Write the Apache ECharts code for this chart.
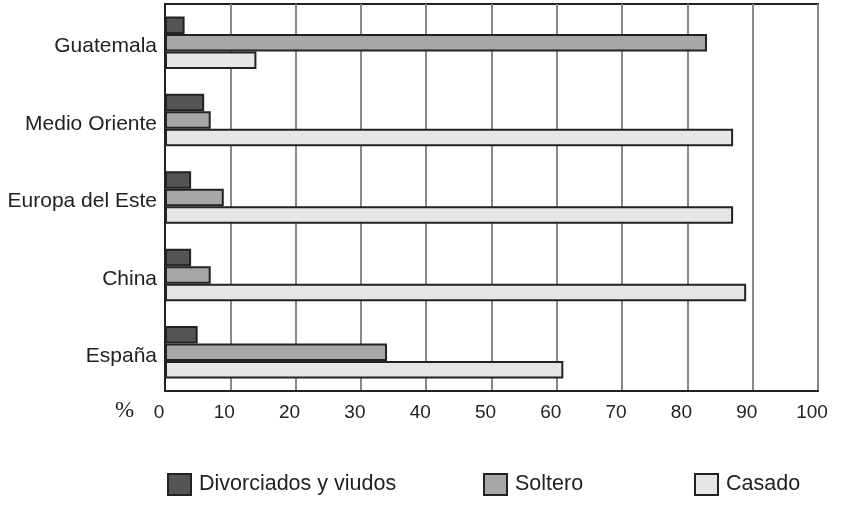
<!DOCTYPE html>
<html>
<head>
<meta charset="utf-8">
<script src="https://cdn.jsdelivr.net/npm/echarts@6/dist/echarts.min.js"></script>
<style>
  html, body { margin: 0; padding: 0; background: #fff; }
  #chart { width: 847px; height: 532px; }
</style>
</head>
<body>
<div id="chart"></div>
<script>
// categories, from bottom to top
var regiones = ['España', 'China', 'Europa del Este', 'Medio Oriente', 'Guatemala'];
var divorciados = [5, 4, 4, 6, 3];
var soltero = [34, 7, 9, 7, 83];
var casado = [61, 89, 87, 87, 14];
var ticksX = [0, 10, 20, 30, 40, 50, 60, 70, 80, 90, 100];

var myChart = echarts.init(document.getElementById('chart'));
var borde = { borderColor: '#222', borderWidth: 2 };

function leyenda(nombre, left) {
    return {
        data: [nombre],
        left: left,
        top: 473,
        padding: 0,
        icon: 'rect',
        itemWidth: 23,
        itemHeight: 21,
        itemStyle: borde,
        selectedMode: false,
        textStyle: { fontSize: 21.5, color: '#222', fontFamily: 'Liberation Sans', padding: [2, 0, 0, 3] }
    };
}

var option = {
    animation: false,
    grid: {
        left: 165, right: 29, top: 4, bottom: 141,
        show: true, borderColor: '#222', borderWidth: 2
    },
    legend: [
        leyenda('Divorciados y viudos', 167),
        leyenda('Soltero', 483),
        leyenda('Casado', 694)
    ],
    graphic: [{
        type: 'text', left: 115, top: 399,
        style: { text: '%', fontSize: 23, fontFamily: 'Liberation Serif', fill: '#222' }
    }],
    xAxis: {
        type: 'value', min: 0, max: 100, interval: 10,
        axisLine: { show: true, lineStyle: { color: '#222', width: 2 } },
        axisTick: { show: false },
        splitLine: { lineStyle: { color: '#888', width: 2 } },
        axisLabel: {
            fontSize: 19, color: '#222', fontFamily: 'Liberation Sans', margin: 12,
            padding: [0, 12, 0, 0],
            formatter: function (v) { return ticksX.indexOf(v) >= 0 ? String(v) : ''; }
        }
    },
    yAxis: {
        type: 'category', data: regiones,
        axisLine: { show: true, lineStyle: { color: '#222', width: 2 } },
        axisTick: { show: false },
        axisLabel: {
            fontSize: 21, color: '#222', fontFamily: 'Liberation Sans', margin: 8,
            formatter: function (v) { return '{a|' + v + '}'; },
            rich: { a: { fontSize: 21, color: '#222', fontFamily: 'Liberation Sans', padding: [8, 0, 0, 0] } }
        }
    },
    series: [
        { name: 'Divorciados y viudos', type: 'bar', data: divorciados, barWidth: 17.5, barGap: '0%',
          itemStyle: { color: '#555555', borderColor: '#222', borderWidth: 2 } },
        { name: 'Soltero', type: 'bar', data: soltero, barWidth: 17.5, barGap: '0%',
          itemStyle: { color: '#a7a7a9', borderColor: '#222', borderWidth: 2 } },
        { name: 'Casado', type: 'bar', data: casado, barWidth: 17.5, barGap: '0%',
          itemStyle: { color: '#e6e6e6', borderColor: '#222', borderWidth: 2 } }
    ]
};
myChart.setOption(option);
window.addEventListener('resize', function () { myChart.resize(); }, false);
</script>
</body>
</html>
